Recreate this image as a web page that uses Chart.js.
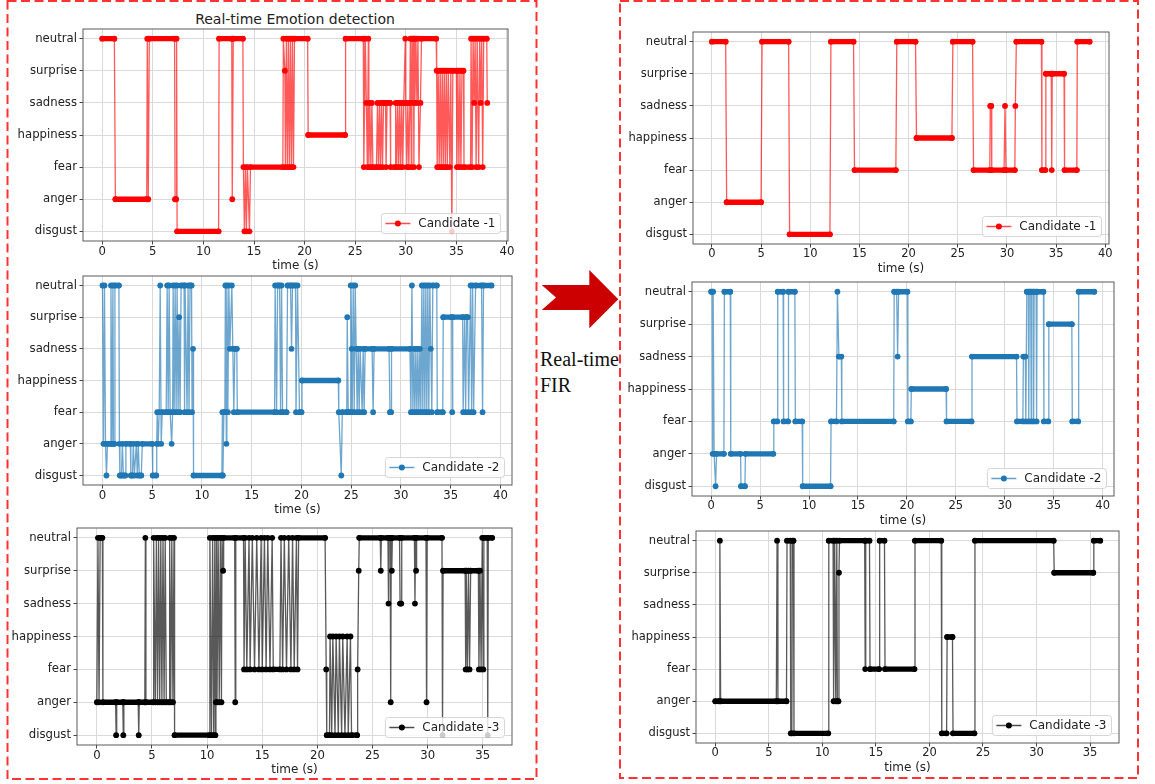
<!DOCTYPE html>
<html>
<head>
<meta charset="utf-8">
<script src="https://cdn.jsdelivr.net/npm/chart.js@4.4.1/dist/chart.umd.min.js"></script>
<style>
  body { margin: 0; background: #fff; }
  #page { position: relative; width: 1155px; height: 784px; overflow: hidden; background: #fff; }
  canvas { position: absolute; }
  #title { position: absolute; left: 95px; width: 400px; top: 11px; text-align: center;
           font: 14px "DejaVu Sans", sans-serif; color: #222; }
  #fir { position: absolute; left: 540px; top: 346px; font: 20px "Liberation Serif", serif;
         line-height: 26px; color: #111; white-space: nowrap; }
  #over { position: absolute; left: 0; top: 0; pointer-events: none; }
</style>
</head>
<body>
<div id="page">
  <div id="title">Real-time Emotion detection</div>
  <div id="fir">Real-time<br>FIR</div>
  <canvas id="c_l1"></canvas>
  <canvas id="c_l2"></canvas>
  <canvas id="c_l3"></canvas>
  <canvas id="c_r1"></canvas>
  <canvas id="c_r2"></canvas>
  <canvas id="c_r3"></canvas>
  <svg id="over" width="1155" height="784">
    <rect x="7.5" y="1" width="529" height="778" fill="none" stroke="#ff3333" stroke-width="2" stroke-dasharray="9 4.5"/>
    <rect x="620" y="1" width="518" height="777" fill="none" stroke="#ff3333" stroke-width="2" stroke-dasharray="9 4.5"/>
    <polygon points="541.7,285 589.3,285 589.3,270 618.3,299.3 589.3,328.3 589.3,310 541.7,310 556,297.5" fill="#cc0000"/>
  </svg>
</div>
<script>
// emotion codes, bottom to top
const DI = 0, AN = 1, FE = 2, HA = 3, SA = 4, SU = 5, NE = 6;
const emotions = ['disgust', 'anger', 'fear', 'happiness', 'sadness', 'surprise', 'neutral'];
const ticks40 = [0, 5, 10, 15, 20, 25, 30, 35, 40];
const ticks35 = [0, 5, 10, 15, 20, 25, 30, 35];

// raw detection, [time (s), emotion]
const rawCand1 = [
  [0,NE],[1.2,NE],[1.3,AN],[4.4,AN],[4.45,NE],[4.55,AN],[4.65,NE],[7.15,NE],[7.2,AN],[7.3,AN],[7.35,NE],[7.4,DI],
  [11.5,DI],[11.55,NE],[12.8,NE],[12.85,AN],[12.95,NE],[13.9,NE],[13.95,FE],[14.05,DI],[14.15,FE],[14.25,DI],
  [14.35,FE],[14.55,DI],[14.65,FE],[17.85,FE],[17.9,NE],[18.05,SU],[18.1,FE],[18.2,NE],[18.3,FE],[18.4,NE],
  [18.5,FE],[18.6,NE],[18.7,FE],[18.8,NE],[18.9,FE],[19.0,NE],[20.3,NE],[20.35,HA],[24.0,HA],[24.05,NE],
  [25.8,NE],[25.85,FE],[26.0,NE],[26.1,SA],[26.2,FE],[26.3,NE],[26.35,FE],[26.45,SA],[26.55,FE],[26.65,SA],
  [26.75,FE],[27.1,FE],[27.2,SA],[27.3,FE],[27.4,SA],[27.5,FE],[27.6,SA],[27.7,FE],[27.8,SA],[28.0,SA],
  [28.05,FE],[28.15,SA],[28.45,SA],[28.5,FE],[28.95,FE],[29.0,SA],[29.1,FE],[29.2,SA],[29.3,FE],[29.4,SA],
  [29.5,FE],[29.6,SA],[29.7,FE],[29.8,SA],[29.95,NE],[30.0,SA],[30.1,FE],[30.2,SA],[30.3,FE],[30.4,SA],
  [30.45,NE],[30.55,FE],[30.6,NE],[30.65,SA],[30.75,NE],[30.8,FE],[30.85,NE],[30.9,SA],[31.0,NE],[31.1,SA],
  [31.2,NE],[31.3,FE],[31.45,SA],[31.55,NE],[33.0,NE],[33.05,SU],[33.1,FE],[33.2,SU],[33.3,FE],[33.4,SU],
  [33.5,FE],[33.6,SU],[33.7,FE],[33.8,SU],[33.9,FE],[34.0,SU],[34.1,FE],[34.2,SU],[34.35,FE],[34.45,SU],
  [34.55,DI],[34.65,SU],[35.0,SU],[35.05,FE],[35.15,SU],[35.25,FE],[35.35,SU],[35.45,FE],[35.55,SU],[35.7,SU],
  [35.75,FE],[36.4,FE],[36.45,NE],[36.55,FE],[36.65,NE],[36.75,SA],[36.85,NE],[36.95,FE],[37.05,NE],[37.2,FE],
  [37.3,NE],[37.4,SA],[37.5,NE],[37.6,FE],[37.7,NE],[38.0,NE],[38.05,SA]
];
const rawCand2 = [
  [0,NE],[0.1,AN],[0.2,NE],[0.3,AN],[0.4,DI],[0.5,AN],[0.8,AN],[0.85,NE],[0.95,AN],[1.05,NE],[1.1,AN],[1.2,AN],
  [1.25,NE],[1.65,NE],[1.7,AN],[1.75,DI],[1.9,DI],[2.0,AN],[2.1,DI],[2.3,DI],[2.35,AN],[2.8,AN],[2.85,DI],
  [3.0,DI],[3.1,AN],[3.2,DI],[3.4,AN],[3.5,DI],[3.6,AN],[3.7,DI],[3.9,DI],[4.0,AN],[5.0,AN],[5.05,DI],[5.4,DI],
  [5.45,AN],[5.5,FE],[5.6,AN],[5.7,FE],[5.8,NE],[5.9,AN],[6.0,FE],[6.4,FE],[6.5,NE],[6.6,FE],[6.7,NE],[6.8,FE],
  [6.95,AN],[7.05,FE],[7.1,NE],[7.2,FE],[7.3,NE],[7.4,FE],[7.5,NE],[7.6,FE],[7.7,SU],[7.8,FE],[7.9,NE],[8.2,NE],
  [8.25,FE],[8.3,NE],[8.5,FE],[8.6,NE],[8.7,FE],[8.8,NE],[8.95,NE],[9.0,FE],[9.1,SA],[9.15,DI],[12.0,DI],
  [12.05,FE],[12.1,DI],[12.2,FE],[12.3,FE],[12.35,NE],[12.45,AN],[12.5,NE],[12.6,FE],[12.7,NE],[12.8,SA],
  [13.0,NE],[13.1,SA],[13.2,FE],[13.3,SA],[13.5,SA],[13.55,FE],[17.3,FE],[17.35,NE],[17.5,FE],[17.6,NE],
  [17.8,NE],[17.9,FE],[18.0,NE],[18.1,FE],[18.5,FE],[18.6,NE],[18.9,NE],[19.0,SA],[19.1,NE],[19.4,NE],
  [19.45,FE],[19.6,NE],[19.8,FE],[20.0,FE],[20.05,HA],[23.7,HA],[23.75,FE],[24.0,DI],[24.1,FE],[24.55,FE],
  [24.6,SU],[24.7,FE],[24.9,FE],[24.95,NE],[25.05,SA],[25.1,FE],[25.2,NE],[25.3,FE],[25.4,NE],[25.5,SA],
  [25.6,FE],[25.7,SA],[25.8,FE],[25.9,SA],[26.1,FE],[26.2,SA],[26.3,FE],[26.4,SA],[27.1,SA],[27.2,FE],
  [27.3,SA],[28.8,SA],[28.9,FE],[29.0,FE],[29.05,SA],[30.9,SA],[31.0,FE],[31.1,NE],[31.2,FE],[31.3,SA],
  [31.4,FE],[31.5,SA],[31.6,FE],[31.7,SA],[31.8,FE],[31.9,SA],[32.0,FE],[32.1,NE],[32.2,FE],[32.3,NE],
  [32.4,FE],[32.5,NE],[32.6,FE],[32.7,NE],[32.8,FE],[32.9,NE],[33.0,SA],[33.1,FE],[33.2,NE],[33.6,NE],
  [33.65,FE],[34.2,FE],[34.25,SU],[35.1,SU],[35.15,FE],[35.2,SU],[36.2,SU],[36.25,FE],[36.4,SU],[36.5,FE],
  [36.6,SU],[36.7,SU],[36.8,FE],[37.0,NE],[37.1,FE],[37.2,NE],[37.3,FE],[37.5,NE],[38.1,NE],[38.2,FE],
  [38.3,NE],[39.1,NE]
];
const rawCand3 = [
  [0,AN],[0.1,NE],[0.2,AN],[0.3,NE],[0.5,NE],[0.55,AN],[1.7,AN],[1.75,DI],[1.8,AN],[2.35,AN],[2.4,DI],[2.45,AN],
  [3.75,AN],[3.8,DI],[3.85,AN],[4.35,AN],[4.4,NE],[4.45,AN],[5.1,AN],[5.15,NE],[5.3,AN],[5.4,NE],[5.5,AN],
  [5.6,NE],[5.7,AN],[5.8,NE],[5.9,AN],[6.0,NE],[6.1,AN],[6.2,NE],[6.3,AN],[6.55,AN],[6.6,NE],[6.7,AN],[6.8,NE],
  [6.9,AN],[7.0,NE],[7.05,DI],[10.2,DI],[10.25,NE],[10.4,DI],[10.5,NE],[10.6,DI],[10.7,NE],[10.75,DI],[10.8,AN],
  [10.85,NE],[10.9,AN],[11.0,NE],[11.1,AN],[11.2,NE],[11.3,AN],[11.35,NE],[11.45,SU],[11.5,NE],[12.5,NE],
  [12.55,AN],[12.6,NE],[13.3,NE],[13.35,FE],[13.45,NE],[13.6,FE],[13.8,NE],[13.9,FE],[14.1,NE],[14.3,FE],
  [14.5,NE],[14.7,FE],[14.9,NE],[15.0,FE],[15.2,NE],[15.35,FE],[15.5,NE],[15.7,FE],[15.9,NE],[16.0,FE],
  [16.6,FE],[16.7,NE],[16.85,FE],[17.0,NE],[17.2,FE],[17.4,NE],[17.6,FE],[17.75,NE],[17.9,FE],[18.1,NE],
  [18.2,FE],[18.3,NE],[20.7,NE],[20.8,FE],[20.85,DI],[21.1,DI],[21.15,HA],[21.3,DI],[21.4,HA],[21.6,DI],
  [21.7,HA],[21.9,DI],[22.0,HA],[22.2,DI],[22.3,HA],[22.5,DI],[22.7,HA],[22.8,DI],[23.0,HA],[23.1,DI],
  [23.6,DI],[23.65,FE],[23.75,SU],[23.8,NE],[25.7,NE],[25.75,SU],[25.8,NE],[26.4,NE],[26.45,SA],[26.5,NE],
  [26.6,NE],[26.65,AN],[26.7,NE],[26.75,SU],[26.8,NE],[27.45,NE],[27.5,SA],[27.6,SA],[27.65,NE],[28.8,NE],
  [28.85,SA],[28.9,NE],[28.95,SU],[29.0,NE],[29.85,NE],[29.9,AN],[29.95,NE],[31.3,NE],[31.35,DI],[31.4,SU],
  [33.4,SU],[33.45,FE],[33.5,SU],[33.6,FE],[33.7,SU],[33.8,FE],[33.9,SU],[34.6,SU],[34.65,FE],[34.75,SU],
  [34.85,FE],[34.95,NE],[35.05,FE],[35.1,NE],[35.4,NE],[35.45,DI],[35.5,NE],[35.85,NE]
];

// after the FIR filter
const firCand1 = [
  [0,NE],[1.4,NE],[1.5,AN],[5.0,AN],[5.1,NE],[7.8,NE],[7.9,DI],[12.0,DI],[12.1,NE],[14.4,NE],[14.5,FE],
  [18.7,FE],[18.8,NE],[20.7,NE],[20.8,HA],[24.4,HA],[24.5,NE],[26.5,NE],[26.6,FE],[28.25,FE],[28.3,SA],
  [28.4,SA],[28.45,FE],[29.7,FE],[29.8,SA],[29.9,FE],[30.8,FE],[30.85,SA],[30.95,NE],[33.5,NE],[33.55,FE],
  [33.9,FE],[33.95,SU],[34.5,SU],[34.55,FE],[34.6,SU],[35.8,SU],[35.85,FE],[37.1,FE],[37.15,NE],[38.4,NE]
];
const firCand2 = [
  [0,NE],[0.1,NE],[0.15,AN],[0.2,NE],[0.3,AN],[0.45,DI],[0.55,AN],[1.3,AN],[1.35,NE],[1.95,NE],[2.0,AN],
  [3.0,AN],[3.05,DI],[3.45,DI],[3.5,AN],[6.35,AN],[6.4,FE],[6.75,FE],[6.8,NE],[7.35,NE],[7.4,FE],[7.85,FE],
  [7.9,NE],[8.55,NE],[8.6,FE],[9.3,FE],[9.35,DI],[12.2,DI],[12.25,FE],[12.8,FE],[12.9,NE],[13.05,SA],
  [13.3,SA],[13.35,FE],[18.65,FE],[18.7,NE],[18.95,NE],[19.05,SA],[19.15,NE],[20.05,NE],[20.1,FE],[20.4,FE],
  [20.45,HA],[24.0,HA],[24.05,FE],[26.6,FE],[26.65,SA],[31.2,SA],[31.25,FE],[31.85,FE],[31.9,SA],[32.1,SA],
  [32.15,FE],[32.25,NE],[32.4,NE],[32.45,FE],[32.5,NE],[32.65,NE],[32.7,FE],[32.75,NE],[32.9,NE],[32.95,FE],
  [33.0,NE],[33.2,NE],[33.25,FE],[33.3,NE],[33.95,NE],[34.0,FE],[34.45,FE],[34.5,SU],[36.85,SU],[36.9,FE],
  [37.5,FE],[37.55,NE],[39.15,NE]
];
const firCand3 = [
  [0,AN],[0.35,AN],[0.43,NE],[0.5,AN],[5.7,AN],[5.77,NE],[5.85,AN],[6.65,AN],[6.7,NE],[7.0,NE],[7.05,DI],
  [7.15,DI],[7.2,NE],[7.3,NE],[7.35,DI],[10.55,DI],[10.6,NE],[11.0,NE],[11.05,AN],[11.15,NE],[11.25,AN],
  [11.35,NE],[11.4,AN],[11.5,AN],[11.55,SU],[11.6,NE],[13.95,NE],[14.0,FE],[14.05,NE],[14.4,NE],[14.45,FE],
  [15.3,FE],[15.35,NE],[15.8,NE],[15.85,FE],[18.6,FE],[18.65,NE],[21.1,NE],[21.15,DI],[21.6,DI],[21.65,HA],
  [22.15,HA],[22.2,DI],[24.2,DI],[24.25,NE],[31.6,NE],[31.65,SU],[35.3,SU],[35.35,NE],[35.95,NE]
];

Chart.defaults.font.family = '"DejaVu Sans", sans-serif';
Chart.defaults.color = '#222';

// frame = plot box in page pixels [left, top, right, bottom]
const panels = [
  { id: 'c_l1', frame: [83, 29, 508, 241], xr: [-1.9, 40.1], ticks: ticks40, pts: rawCand1, color: '255,0,0', label: 'Candidate -1', fs: 11.7 },
  { id: 'c_l2', frame: [83, 276, 512, 485], xr: [-1.96, 41.16], ticks: ticks40, pts: rawCand2, color: '31,119,180', label: 'Candidate -2', fs: 11.7 },
  { id: 'c_l3', frame: [77, 528, 512, 745], xr: [-1.8, 37.65], ticks: ticks35, pts: rawCand3, color: '0,0,0', label: 'Candidate -3', fs: 11.7 },
  { id: 'c_r1', frame: [693, 32, 1109, 244], xr: [-1.92, 40.37], ticks: ticks40, pts: firCand1, color: '255,0,0', label: 'Candidate -1', fs: 11.5 },
  { id: 'c_r2', frame: [692, 282, 1114, 496], xr: [-1.96, 41.16], ticks: ticks40, pts: firCand2, color: '31,119,180', label: 'Candidate -2', fs: 11.5 },
  { id: 'c_r3', frame: [696, 531, 1119, 743], xr: [-1.8, 37.7], ticks: ticks35, pts: firCand3, color: '0,0,0', label: 'Candidate -3', fs: 11.5 }
];

const framePlugin = {
  id: 'frameBox',
  afterDatasetsDraw(chart) {
    const { ctx, chartArea: a } = chart;
    ctx.save();
    ctx.strokeStyle = '#5a5a5a';
    ctx.lineWidth = 1;
    ctx.strokeRect(a.left, a.top, a.right - a.left, a.bottom - a.top);
    ctx.restore();
  }
};

const legendPlugin = {
  id: 'legendBox',
  afterDraw(chart, args, o) {
    const { ctx, chartArea: a } = chart;
    ctx.save();
    ctx.font = o.size + 'px "DejaVu Sans"';
    const tw = ctx.measureText(o.text).width;
    const w = tw + 42, h = 20;
    const x = a.right - 7.5 - w, y = a.bottom - 7.5 - h;
    ctx.beginPath();
    ctx.roundRect(x, y, w, h, 3);
    ctx.fillStyle = 'rgba(255,255,255,0.8)';
    ctx.fill();
    ctx.strokeStyle = 'rgba(204,204,204,0.8)';
    ctx.lineWidth = 1;
    ctx.stroke();
    const cy = y + h / 2;
    ctx.strokeStyle = 'rgba(' + o.color + ',0.7)';
    ctx.lineWidth = 1.5;
    ctx.beginPath();
    ctx.moveTo(x + 4, cy);
    ctx.lineTo(x + 29, cy);
    ctx.stroke();
    ctx.fillStyle = 'rgb(' + o.color + ')';
    ctx.beginPath();
    ctx.arc(x + 16.5, cy, 3, 0, Math.PI * 2);
    ctx.fill();
    ctx.fillStyle = '#222';
    ctx.textBaseline = 'middle';
    ctx.fillText(o.text, x + 37, cy + 0.5);
    ctx.restore();
  }
};

function makeChart(p) {
  const YW = 80, TP = 12, RP = 16, XH = 34;
  const [l, t, r, b] = p.frame;
  const cv = document.getElementById(p.id);
  cv.width = YW + (r - l) + RP;
  cv.height = TP + (b - t) + XH;
  cv.style.left = (l - YW) + 'px';
  cv.style.top = (t - TP) + 'px';
  const solid = 'rgb(' + p.color + ')';
  const faint = 'rgba(' + p.color + ',0.65)';
  const flat = c => c.p0.parsed.y === c.p1.parsed.y;
  return new Chart(cv, {
    type: 'line',
    data: {
      datasets: [{
        label: p.label,
        data: p.pts.map(([x, y]) => ({ x, y })),
        borderColor: faint,
        borderWidth: 1.3,
        borderCapStyle: 'round',
        borderJoinStyle: 'round',
        tension: 0,
        pointRadius: 2.9,
        pointBorderWidth: 0,
        pointBackgroundColor: solid,
        pointHoverRadius: 2.9,
        segment: {
          borderWidth: c => flat(c) ? 5.4 : 1.3,
          borderColor: c => flat(c) ? solid : faint
        }
      }]
    },
    options: {
      responsive: false,
      animation: false,
      devicePixelRatio: 1,
      events: [],
      layout: { padding: { left: 0, top: TP, right: RP, bottom: 0 } },
      plugins: {
        legend: { display: false },
        tooltip: { enabled: false },
        legendBox: { text: p.label, color: p.color, size: 12 }
      },
      scales: {
        x: {
          type: 'linear',
          min: p.xr[0],
          max: p.xr[1],
          afterBuildTicks: s => { s.ticks = p.ticks.map(v => ({ value: v })); },
          afterFit: s => { s.height = XH; },
          grid: { color: '#dadada', lineWidth: 1, tickLength: 3.5, tickColor: '#444', tickWidth: 1 },
          border: { display: false },
          ticks: { font: { size: p.fs }, color: '#222', padding: 0, maxRotation: 0 },
          title: { display: true, text: 'time (s)', font: { size: 12 }, color: '#222', padding: { top: 0, bottom: 2 } }
        },
        y: {
          type: 'linear',
          min: -0.3,
          max: 6.3,
          afterBuildTicks: s => { s.ticks = emotions.map((e, i) => ({ value: i })); },
          afterFit: s => { s.width = YW; },
          grid: { color: '#dadada', lineWidth: 1, tickLength: 3.5, tickColor: '#444', tickWidth: 1 },
          border: { display: false },
          ticks: { font: { size: p.fs }, color: '#222', padding: 2.5, callback: v => emotions[v] }
        }
      }
    },
    plugins: [framePlugin, legendPlugin]
  });
}

panels.forEach(makeChart);
</script>
</body>
</html>
